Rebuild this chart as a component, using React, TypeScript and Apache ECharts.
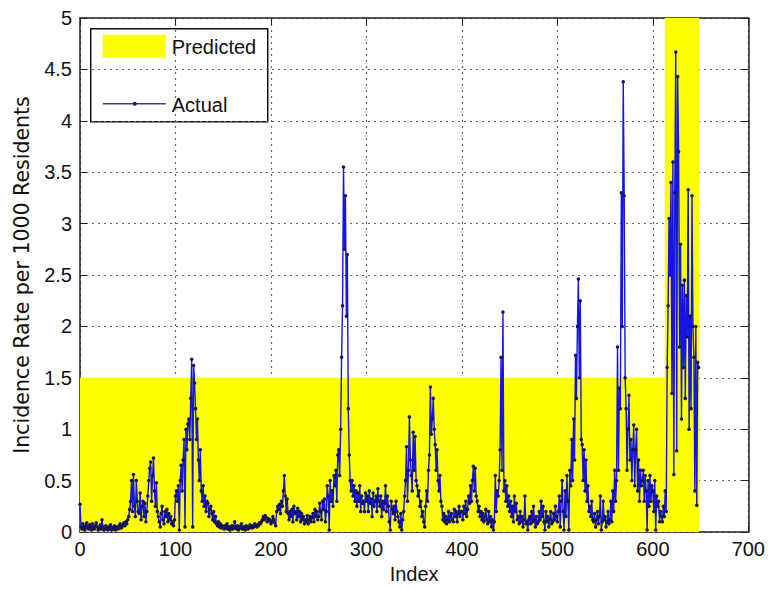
import React, { useEffect, useRef } from "react";
import * as echarts from "echarts";

// Actual incidence rate per 1000 residents, index 0..648
const actual000 = [0.27, 0.05, 0.03, 0.08, 0.04, 0.02, 0.06, 0.09, 0.04, 0.03, 0.07, 0.05, 0.02, 0.08, 0.04, 0.03, 0.06, 0.09, 0.05, 0.02, 0.04, 0.07, 0.03, 0.12, 0.05, 0.02, 0.03, 0.06, 0.04, 0.02, 0.05, 0.03, 0.07, 0.02, 0.04, 0.03, 0.06, 0.02, 0.05, 0.04, 0.03, 0.06, 0.08, 0.04, 0.05, 0.07, 0.09, 0.06, 0.1, 0.08];
const actual050 = [0.12, 0.15, 0.22, 0.3, 0.5, 0.2, 0.56, 0.25, 0.15, 0.5, 0.3, 0.2, 0.18, 0.38, 0.12, 0.25, 0.3, 0.15, 0.28, 0.1, 0.2, 0.35, 0.5, 0.62, 0.68, 0.3, 0.55, 0.72, 0.4, 0.25, 0.48, 0.2, 0.15, 0.1, 0.05, 0.18, 0.25, 0.12, 0.08, 0.2, 0.15, 0.22, 0.1, 0.18, 0.12, 0.15, 0.08, 0.1, 0.06, 0.12];
const actual100 = [0.35, 0.4, 0.3, 0.45, 0.02, 0.5, 0.65, 0.4, 0.7, 0.9, 0.05, 1.0, 0.8, 1.05, 1.1, 0.9, 1.3, 1.68, 0.05, 1.62, 1.45, 1.2, 0.9, 1.1, 0.7, 0.5, 0.8, 0.4, 0.3, 0.45, 0.25, 0.35, 0.2, 0.3, 0.28, 0.15, 0.22, 0.25, 0.18, 0.12, 0.2, 0.1, 0.15, 0.08, 0.06, 0.1, 0.05, 0.08, 0.04, 0.06];
const actual150 = [0.05, 0.03, 0.06, 0.04, 0.08, 0.03, 0.05, 0.02, 0.04, 0.06, 0.03, 0.05, 0.1, 0.04, 0.03, 0.06, 0.02, 0.05, 0.04, 0.08, 0.03, 0.05, 0.04, 0.02, 0.06, 0.05, 0.03, 0.04, 0.07, 0.05, 0.04, 0.06, 0.05, 0.08, 0.06, 0.05, 0.07, 0.06, 0.09, 0.08, 0.1, 0.12, 0.15, 0.12, 0.16, 0.14, 0.1, 0.13, 0.11, 0.12];
const actual200 = [0.08, 0.1, 0.15, 0.12, 0.09, 0.06, 0.2, 0.25, 0.22, 0.27, 0.18, 0.3, 0.25, 0.4, 0.55, 0.35, 0.2, 0.32, 0.18, 0.12, 0.2, 0.15, 0.22, 0.1, 0.25, 0.18, 0.2, 0.12, 0.23, 0.15, 0.2, 0.1, 0.18, 0.12, 0.15, 0.08, 0.12, 0.1, 0.16, 0.08, 0.12, 0.15, 0.1, 0.14, 0.18, 0.1, 0.22, 0.15, 0.2, 0.12];
const actual250 = [0.15, 0.28, 0.2, 0.12, 0.3, 0.22, 0.32, 0.1, 0.2, 0.45, 0.35, 0.02, 0.5, 0.3, 0.4, 0.25, 0.55, 0.45, 0.6, 0.3, 0.75, 0.8, 0.55, 1.0, 1.7, 2.2, 3.55, 2.75, 3.27, 2.1, 2.7, 1.2, 0.75, 0.5, 0.4, 0.5, 0.35, 0.45, 0.3, 0.4, 0.25, 0.38, 0.3, 0.45, 0.2, 0.35, 0.28, 0.3, 0.2, 0.38];
const actual300 = [0.3, 0.35, 0.2, 0.4, 0.28, 0.32, 0.15, 0.38, 0.25, 0.3, 0.35, 0.2, 0.42, 0.3, 0.25, 0.35, 0.15, 0.3, 0.22, 0.28, 0.45, 0.2, 0.35, 0.25, 0.1, 0.02, 0.3, 0.22, 0.18, 0.25, 0.12, 0.3, 0.2, 0.15, 0.1, 0.05, 0.18, 0.02, 0.12, 0.2, 0.35, 0.5, 0.83, 0.3, 0.6, 1.12, 0.7, 0.55, 0.4, 0.97];
const actual350 = [0.6, 0.93, 0.5, 0.45, 0.35, 0.4, 0.25, 0.3, 0.15, 0.2, 0.1, 0.05, 0.25, 0.4, 0.3, 0.6, 0.75, 1.41, 0.95, 1.1, 1.3, 1.0, 0.85, 0.6, 0.8, 0.5, 0.4, 0.55, 0.3, 0.25, 0.12, 0.18, 0.1, 0.15, 0.08, 0.12, 0.2, 0.1, 0.15, 0.18, 0.12, 0.1, 0.22, 0.15, 0.2, 0.1, 0.18, 0.25, 0.15, 0.2];
const actual400 = [0.2, 0.12, 0.25, 0.18, 0.3, 0.15, 0.22, 0.35, 0.28, 0.45, 0.3, 0.5, 0.64, 0.4, 0.62, 0.35, 0.3, 0.2, 0.25, 0.15, 0.2, 0.12, 0.18, 0.1, 0.15, 0.22, 0.12, 0.08, 0.2, 0.1, 0.15, 0.05, 0.12, 0.02, 0.1, 0.55, 0.2, 0.4, 0.35, 0.5, 0.8, 1.7, 0.6, 2.14, 0.4, 0.5, 0.3, 0.45, 0.25, 0.35];
const actual450 = [0.2, 0.3, 0.15, 0.25, 0.1, 0.35, 0.2, 0.28, 0.12, 0.15, 0.08, 0.2, 0.1, 0.15, 0.05, 0.12, 0.35, 0.08, 0.1, 0.02, 0.12, 0.15, 0.08, 0.2, 0.1, 0.25, 0.12, 0.05, 0.15, 0.08, 0.1, 0.2, 0.12, 0.3, 0.15, 0.25, 0.1, 0.02, 0.2, 0.1, 0.15, 0.05, 0.12, 0.2, 0.08, 0.1, 0.18, 0.12, 0.25, 0.15];
const actual500 = [0.1, 0.2, 0.35, 0.05, 0.3, 0.5, 0.2, 0.02, 0.4, 0.15, 0.55, 0.3, 0.02, 0.6, 0.45, 0.9, 0.5, 1.1, 0.7, 1.72, 1.3, 2.0, 2.46, 1.5, 2.25, 0.9, 0.85, 0.5, 0.8, 0.4, 0.7, 0.3, 0.45, 0.2, 0.25, 0.15, 0.3, 0.12, 0.1, 0.18, 0.05, 0.12, 0.2, 0.08, 0.15, 0.35, 0.02, 0.1, 0.3, 0.12];
const actual550 = [0.15, 0.05, 0.1, 0.2, 0.08, 0.12, 0.3, 0.1, 0.4, 0.2, 0.6, 0.3, 0.5, 1.8, 0.6, 1.4, 1.2, 3.3, 2.0, 4.38, 3.27, 1.5, 1.2, 0.6, 1.0, 1.33, 0.7, 0.9, 0.5, 0.8, 1.04, 0.45, 0.8, 1.0, 0.4, 0.7, 0.3, 0.6, 0.45, 0.5, 0.6, 0.3, 0.55, 0.4, 0.02, 0.5, 0.25, 0.55, 0.3, 0.45];
const actual600 = [0.4, 0.2, 0.5, 0.02, 0.35, 0.25, 0.3, 0.1, 0.2, 0.15, 0.1, 0.25, 0.15, 0.4, 0.2, 1.6, 2.2, 3.05, 2.5, 3.4, 1.35, 3.6, 0.56, 3.3, 4.67, 0.79, 4.43, 3.7, 1.8, 2.8, 1.1, 2.4, 1.6, 2.45, 1.3, 2.3, 1.9, 3.33, 1.0, 2.1, 1.2, 3.27, 2.0, 1.7, 0.4, 2.0, 0.26, 1.65, 1.6];

// Predicted (yellow area) outline
const predictedX = [0, 612.5, 612.5, 648.5, 648.5];
const predictedY = [1.5, 1.5, 5, 5, 0];

const xTicks = [0, 100, 200, 300, 400, 500, 600, 700];
const yTicks = [0, 0.5, 1, 1.5, 2, 2.5, 3, 3.5, 4, 4.5, 5];

const FONT = "Liberation Sans, Arial, sans-serif";

export default function App() {
  const ref = useRef<HTMLDivElement>(null);
  useEffect(() => {
    if (!ref.current) return;
    const chart = echarts.init(ref.current, null, { renderer: "svg" });
    const actual = [
      ...actual000, ...actual050, ...actual100, ...actual150, ...actual200,
      ...actual250, ...actual300, ...actual350, ...actual400, ...actual450,
      ...actual500, ...actual550, ...actual600,
    ];
    const actualData = actual.map((v, i) => [i, v]);
    const predictedData = predictedX.map((x, i) => [x, predictedY[i]]);
    const axisLineStyle = { color: "#222", width: 1.5 };
    const grid = { type: [2, 4] as number[], color: "#666", width: 1.2 };
    chart.setOption({
      animation: false,
      backgroundColor: "#fff",
      grid: { left: 80, right: 10, top: 18, bottom: 44, containLabel: false },
      xAxis: [
        {
          type: "value",
          min: xTicks[0],
          max: xTicks[xTicks.length - 1],
          interval: 100,
          position: "bottom",
          axisLine: { show: true, onZero: false, lineStyle: axisLineStyle },
          axisTick: { show: true, inside: true, length: 7, lineStyle: { color: "#222" } },
          axisLabel: { color: "#111", fontSize: 20, fontFamily: FONT, margin: 7 },
          splitLine: { show: true, lineStyle: grid },
          name: "Index",
          nameLocation: "middle",
          nameGap: 32,
          nameTextStyle: { color: "#111", fontSize: 20, fontFamily: FONT },
        },
        {
          type: "value",
          min: xTicks[0],
          max: xTicks[xTicks.length - 1],
          interval: 100,
          position: "top",
          axisLine: { show: true, onZero: false, lineStyle: axisLineStyle },
          axisTick: { show: true, inside: true, length: 7, lineStyle: { color: "#222" } },
          axisLabel: { show: false },
          splitLine: { show: false },
        },
      ],
      yAxis: [
        {
          type: "value",
          min: yTicks[0],
          max: yTicks[yTicks.length - 1],
          interval: 0.5,
          position: "left",
          axisLine: { show: true, onZero: false, lineStyle: axisLineStyle },
          axisTick: { show: true, inside: true, length: 7, lineStyle: { color: "#222" } },
          axisLabel: { color: "#111", fontSize: 20, fontFamily: FONT, margin: 8 },
          splitLine: { show: true, lineStyle: grid },
          name: "Incidence Rate per 1000 Residents",
          nameLocation: "middle",
          nameGap: 48,
          nameTextStyle: { color: "#111", fontSize: 20.5, fontFamily: "DejaVu Sans, sans-serif" },
        },
        {
          type: "value",
          min: yTicks[0],
          max: yTicks[yTicks.length - 1],
          interval: 0.5,
          position: "right",
          axisLine: { show: true, onZero: false, lineStyle: axisLineStyle },
          axisTick: { show: true, inside: true, length: 7, lineStyle: { color: "#222" } },
          axisLabel: { show: false },
          splitLine: { show: false },
        },
      ],
      series: [
        {
          name: "Predicted",
          type: "line",
          data: predictedData,
          showSymbol: false,
          lineStyle: { width: 0 },
          areaStyle: { color: "#ffff00", opacity: 1 },
          z: 1,
          silent: true,
        },
        {
          name: "Actual",
          type: "line",
          data: actualData,
          symbol: "circle",
          symbolSize: 3.5,
          showSymbol: true,
          showAllSymbol: true,
          lineStyle: { color: "#1414e6", width: 1.4 },
          itemStyle: { color: "#14145a" },
          z: 3,
        },
      ],
      graphic: [
        {
          type: "group",
          left: 90,
          top: 28,
          z: 100,
          children: [
            { type: "rect", shape: { x: 0, y: 0, width: 177, height: 93 }, style: { fill: "#fff", stroke: "#111", lineWidth: 1.5 } },
            { type: "rect", shape: { x: 12, y: 6, width: 63, height: 23 }, style: { fill: "#ffff00" } },
            { type: "text", x: 81, y: 18, style: { text: "Predicted", fontSize: 20, fontFamily: FONT, fill: "#111", verticalAlign: "middle" } },
            { type: "line", shape: { x1: 12, y1: 75, x2: 75, y2: 75 }, style: { stroke: "#3a3a9a", lineWidth: 1.5 } },
            { type: "circle", shape: { cx: 44, cy: 75, r: 2 }, style: { fill: "#1a1a70" } },
            { type: "text", x: 81, y: 76, style: { text: "Actual", fontSize: 20, fontFamily: FONT, fill: "#111", verticalAlign: "middle" } },
          ],
        },
      ],
    });
    return () => chart.dispose();
  }, []);
  return <div ref={ref} style={{ position: "fixed", left: 0, top: 0, width: 768, height: 589 }} />;
}
